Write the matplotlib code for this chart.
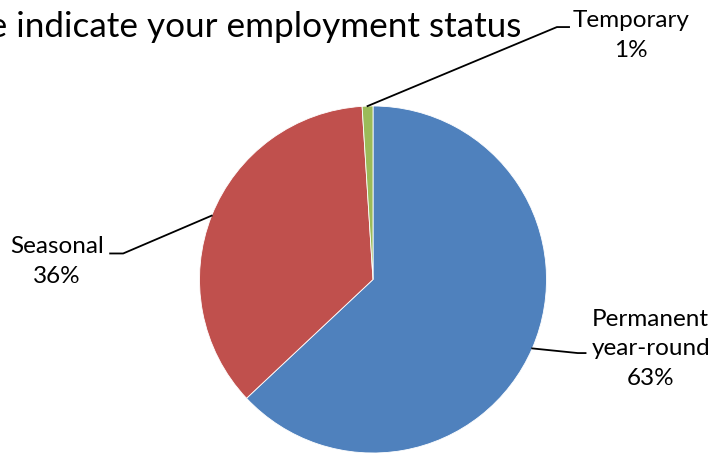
import matplotlib
matplotlib.use("Agg")
import matplotlib.pyplot as plt
import numpy as np

title = "Please indicate your employment status"
labels = ["Permanent\nyear-round", "Seasonal", "Temporary"]
values = [63, 36, 1]
colors = ["#4F81BD", "#C0504D", "#9BBB59"]

# label text centres and leader elbows (axes data units, radius = 1)
text_pos = [(1.60, -0.40), (-1.82, 0.105), (1.485, 1.405)]
elbow_pos = [(1.18, -0.424), (-1.44, 0.15), (1.06, 1.455)]
end_pos = [(1.225, -0.424), (-1.515, 0.15), (1.13, 1.455)]

W, H = 716, 455
fig = plt.figure(figsize=(W / 100, H / 100), dpi=100)
plt.rcParams["font.family"] = ["Lato", "DejaVu Sans"]

cx, cy, r = 373, 279.5, 173.5
ax = fig.add_axes([(cx - r) / W, (H - cy - r) / H, 2 * r / W, 2 * r / H])
wedges, _ = ax.pie(values, colors=colors, startangle=90, counterclock=False,
                   radius=1, wedgeprops={"edgecolor": "white", "linewidth": 0.6})
ax.set_xlim(-1, 1)
ax.set_ylim(-1, 1)
ax.set_aspect("equal")
ax.axis("off")

total = sum(values)
for w, lab, v, tp, el, en in zip(wedges, labels, values, text_pos, elbow_pos, end_pos):
    mid = np.deg2rad((w.theta1 + w.theta2) / 2)
    sx, sy = np.cos(mid), np.sin(mid)
    ax.plot([sx, el[0], en[0]], [sy, el[1], en[1]], color="black", lw=1.3,
            clip_on=False)
    ax.text(tp[0], tp[1], f"{lab}\n{round(v / total * 100)}%", ha="center",
            va="center", fontsize=17.5, linespacing=1.5, clip_on=False)

# the reference image crops the start of the title at the left edge
fig.text(521 / W, 1 - 37 / H, title, ha="right", va="baseline", fontsize=25.3)

fig.savefig("out.png", dpi=100)
